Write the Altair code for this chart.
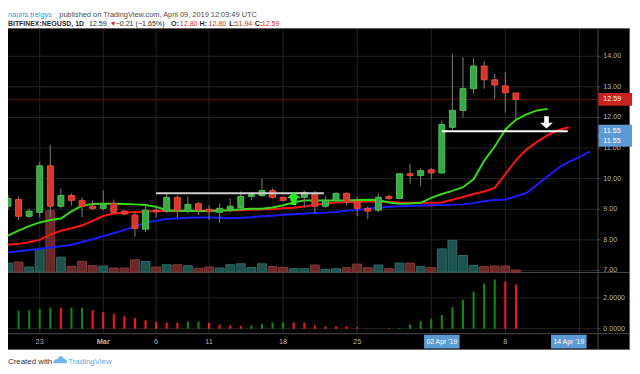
import altair as alt
import pandas as pd

# ---------------- data ----------------
candle_start = "2019-02-20"
opens = [9.10, 9.32, 8.77, 8.90, 10.42, 9.10, 9.45, 9.29, 9.10, 9.03, 9.19, 8.94, 8.81, 8.35, 8.97,
         8.94, 9.39, 8.94, 9.19, 9.00, 8.90, 9.00, 9.06, 9.42, 9.45, 9.61, 9.39, 9.29, 9.39, 9.52,
         9.10, 9.29, 9.52, 9.26, 9.03, 8.97, 9.42, 9.35, 10.16, 10.10, 10.29, 10.19, 11.68, 12.23,
         12.94, 13.68, 13.23, 13.03, 12.80]
highs = [9.45, 9.42, 9.03, 10.55, 11.10, 9.68, 9.52, 9.39, 9.29, 9.61, 9.32, 8.97, 8.90, 9.13, 9.13,
         9.52, 9.45, 9.42, 9.23, 9.13, 9.19, 9.35, 9.58, 9.55, 10.00, 9.68, 9.42, 9.50, 9.61, 9.61,
         9.42, 9.55, 9.55, 9.42, 9.10, 9.52, 9.48, 10.16, 10.48, 10.35, 10.35, 11.90, 14.06, 13.97,
         13.94, 13.84, 13.42, 13.48, 12.80]
lows = [9.00, 8.65, 8.71, 8.74, 8.75, 9.03, 9.13, 8.74, 8.97, 8.97, 8.87, 8.80, 8.10, 8.26, 8.74,
        8.87, 8.71, 8.87, 8.81, 8.65, 8.55, 8.90, 8.94, 9.29, 9.40, 9.35, 9.25, 9.20, 9.06, 8.87,
        9.05, 9.25, 9.13, 8.77, 8.68, 8.90, 9.29, 9.33, 9.84, 9.77, 9.97, 10.15, 11.61, 12.00,
        12.77, 12.94, 12.61, 12.16, 11.94]
closes = [9.35, 8.77, 8.94, 10.42, 9.10, 9.45, 9.29, 9.10, 9.03, 9.16, 8.90, 8.84, 8.37, 8.97, 8.91,
          9.39, 8.97, 9.16, 8.97, 8.92, 9.03, 9.10, 9.42, 9.48, 9.61, 9.39, 9.29, 9.45, 9.55, 9.10,
          9.29, 9.52, 9.26, 9.03, 8.94, 9.39, 9.35, 10.16, 10.10, 10.26, 10.19, 11.77, 12.23, 12.94,
          13.68, 13.23, 13.06, 12.81, 12.59]
volumes = [9, 10, 5, 23, 62, 15, 5.7, 10.7, 6.3, 6, 4, 4, 12.3, 10.7, 5, 7.3, 7.3, 6.3, 3.7, 5,
           4, 7.3, 8.3, 4.5, 8.3, 5.5, 4.5, 3.3, 3.3, 7, 2.7, 3.3, 4.3, 8, 4.3, 7, 3.3, 9, 9, 5.4,
           4.4, 23.4, 32, 16.7, 6.7, 5.4, 6, 6, 2]

osc_start = "2019-02-21"
osc_values = [1.17, 1.19, 1.28, 1.36, 1.36, 1.36, 1.36, 1.21, 1.07, 0.96, 0.83, 0.68, 0.55, 0.45,
              0.40, 0.38, 0.45, 0.45, 0.38, 0.26, 0.21, 0.17, 0.21, 0.32, 0.40, 0.40, 0.40, 0.38,
              0.21, 0.15, 0.15, 0.15, 0.10, 0.02, 0.01, 0.04, 0.06, 0.28, 0.49, 0.64, 0.89, 1.40,
              1.87, 2.40, 2.92, 3.19, 3.06, 2.85]
osc_colors = ["g", "g", "g", "g", "r", "g", "g", "r", "r", "r", "r", "r", "r", "r", "r", "r",
              "g", "g", "r", "r", "r", "r", "g", "g", "g", "g", "r", "r", "r", "r", "r", "r",
              "r", "r", "r", "r", "g", "g", "g", "g", "g", "g", "g", "g", "g", "g", "r", "r"]

ma_start = "2019-02-20"
ma_green = [8.14, 8.30, 8.45, 8.57, 8.65, 8.70, 8.93, 9.12, 9.17, 9.18, 9.18, 9.17, 9.16, 9.14,
            9.08, 8.97, 8.95, 8.95, 8.94, 8.94, 8.96, 8.97, 9.00, 9.02, 9.02, 9.06, 9.13, 9.22,
            9.29, 9.29, 9.29, 9.29, 9.29, 9.30, 9.31, 9.30, 9.22, 9.18, 9.19, 9.21, 9.37, 9.50,
            9.60, 9.72, 9.98, 10.58, 11.05, 11.60, 11.92, 12.10, 12.23, 12.28]
ma_red = [7.84, 7.87, 7.92, 8.00, 8.17, 8.30, 8.38, 8.47, 8.62, 8.78, 8.86, 8.89, 8.91, 8.93,
          8.94, 8.94, 8.94, 8.94, 8.95, 8.96, 8.96, 8.97, 8.97, 8.98, 8.99, 9.00, 9.03, 9.05,
          9.09, 9.14, 9.19, 9.22, 9.23, 9.24, 9.25, 9.25, 9.24, 9.22, 9.21, 9.21, 9.21, 9.22,
          9.31, 9.40, 9.50, 9.58, 9.70, 10.15, 10.60, 10.95, 11.20, 11.42, 11.58, 11.68]
ma_blue = [7.59, 7.63, 7.67, 7.71, 7.75, 7.79, 7.84, 7.93, 8.02, 8.12, 8.22, 8.32, 8.44, 8.56,
           8.62, 8.68, 8.70, 8.72, 8.73, 8.73, 8.72, 8.71, 8.72, 8.74, 8.77, 8.79, 8.82, 8.84,
           8.86, 8.88, 8.89, 8.91, 8.95, 8.98, 9.02, 9.06, 9.08, 9.10, 9.11, 9.12, 9.13, 9.14,
           9.15, 9.16, 9.20, 9.26, 9.30, 9.32, 9.42, 9.53, 9.80, 10.08, 10.35, 10.55, 10.70, 10.88]

price_ticks = [7, 8, 9, 10, 11, 12, 13, 14]
price_tick_labels = ["7.00", "8.00", "9.00", "10.00", "11.00", "12.00", "13.00", "14.00"]
osc_ticks = [0, 2]
osc_tick_labels = ["0.0000", "2.0000"]
grid_dates = ["2019-02-23", "2019-03-01", "2019-03-06", "2019-03-11", "2019-03-18",
              "2019-03-25", "2019-04-01", "2019-04-08", "2019-04-15"]
label_dates = ["2019-02-23", "2019-03-01", "2019-03-06", "2019-03-11", "2019-03-18",
               "2019-03-25", "2019-04-08"]
date_tick_labels = ["23", "Mar", "6", "11", "18", "25", "8"]

last_close = 12.59
level_price = 11.55
hline_starts = ["2019-03-06", "2019-04-02"]
hline_ends = ["2019-03-21T20:24", "2019-04-13T21:36"]
hline_prices = [9.52, 11.55]
marker_dates = ["2019-04-02", "2019-04-14"]
marker_labels = ["02 Apr '19", "14 Apr '19"]
up_arrow = ("2019-03-19", 9.34)
down_arrow = ("2019-04-11T21:20", 11.85)

# ---------------- helpers ----------------
BASE = pd.Timestamp("2019-03-01")


def day_of(s):
    return (pd.Timestamp(s) - BASE) / pd.Timedelta(days=1)


def day_series(start, n):
    return [day_of(start) + i for i in range(n)]


FONT = "Liberation Sans"
GRID = "#242424"
SEP = "#4a4a4a"
AXT = "#b4b4b4"
UPC, UPS = "#3aa845", "#4cc457"
DNC, DNS = "#d8352b", "#f04a3e"
one = pd.DataFrame({"a": [0]})

XS = alt.Scale(domain=[-8.532, 46.239], range=[0, 597], zero=False, nice=False)
PY = alt.Scale(domain=[7, 14], range=[263.5, 46.5], zero=False, nice=False)
VY = alt.Scale(domain=[0, 100], range=[265, 165], nice=False)
OY = alt.Scale(domain=[0, 2], range=[322.5, 291.2], nice=False)


def X(f="d"):
    return alt.X(f"{f}:Q", scale=XS, axis=None)


def Y(f, sc):
    return alt.Y(f"{f}:Q", scale=sc, axis=None)


candles = pd.DataFrame({"d": day_series(candle_start, len(opens)), "o": opens, "h": highs,
                        "l": lows, "c": closes, "v": volumes})
osc = pd.DataFrame({"d": day_series(osc_start, len(osc_values)), "val": osc_values, "col": osc_colors})
greens = pd.DataFrame({"d": day_series(ma_start, len(ma_green)), "p": ma_green})
reds = pd.DataFrame({"d": day_series(ma_start, len(ma_red)), "p": ma_red})
blues = pd.DataFrame({"d": day_series(ma_start, len(ma_blue)), "p": ma_blue})
pticks = pd.DataFrame({"p": price_ticks, "t": price_tick_labels})
oticks = pd.DataFrame({"p": osc_ticks, "t": osc_tick_labels})
gticks = pd.DataFrame({"d": [day_of(s) for s in grid_dates]})
dticks = pd.DataFrame({"d": [day_of(s) for s in label_dates], "t": date_tick_labels})
hlines = pd.DataFrame({"d": [day_of(s) for s in hline_starts], "d2": [day_of(s) for s in hline_ends],
                       "p": hline_prices, "k": ["a", "b"]})
markers = pd.DataFrame({"d": [day_of(s) for s in marker_dates], "t": marker_labels})

layers = []

# black panel
layers.append(alt.Chart(one).mark_rect(fill="#000000", stroke="#5e5e5e", strokeWidth=1).encode(
    x=alt.value(-2), x2=alt.value(629.5), y=alt.value(18.5), y2=alt.value(343.5)))

# grids
layers.append(alt.Chart(pticks).mark_rule(color=GRID, strokeWidth=1).encode(
    y=Y("p", PY), x=alt.value(0), x2=alt.value(597)))
layers.append(alt.Chart(oticks).mark_rule(color=GRID, strokeWidth=1).encode(
    y=Y("p", OY), x=alt.value(0), x2=alt.value(597)))
layers.append(alt.Chart(gticks).mark_rule(color=GRID, strokeWidth=1).encode(
    x=X("d"), y=alt.value(19), y2=alt.value(327)))

# separators
layers.append(alt.Chart(one).mark_rule(color=SEP, strokeWidth=1).encode(
    x=alt.value(0), x2=alt.value(629), y=alt.value(265.5)))
layers.append(alt.Chart(one).mark_rule(color=SEP, strokeWidth=1).encode(
    x=alt.value(0), x2=alt.value(629), y=alt.value(327.5)))
layers.append(alt.Chart(one).mark_rule(color=SEP, strokeWidth=1).encode(
    x=alt.value(597.5), y=alt.value(19), y2=alt.value(343)))

# price axis small ticks
layers.append(alt.Chart(pticks).mark_rule(color=SEP, strokeWidth=1).encode(
    y=Y("p", PY), x=alt.value(597), x2=alt.value(600)))
layers.append(alt.Chart(oticks).mark_rule(color=SEP, strokeWidth=1).encode(
    y=Y("p", OY), x=alt.value(597), x2=alt.value(600)))

# volume
up_test = alt.datum.c >= alt.datum.o
layers.append(alt.Chart(candles).mark_bar(size=9, strokeWidth=1).encode(
    x=X("d"), y=Y("v", VY),
    fill=alt.condition(up_test, alt.value("#1f524e"), alt.value("#6a2929")),
    stroke=alt.condition(up_test, alt.value("#2c6e68"), alt.value("#8a3838"))))

# last price line
layers.append(alt.Chart(pd.DataFrame({"p": [last_close]})).mark_rule(color="#5a1313", strokeWidth=1).encode(
    y=Y("p", PY), x=alt.value(0), x2=alt.value(597)))

# moving averages
for df, col in [(blues, "#1c1cff"), (reds, "#ff1414"), (greens, "#3ad816")]:
    layers.append(alt.Chart(df).mark_line(color=col, strokeWidth=2).encode(x=X("d"), y=Y("p", PY)))

# candles
layers.append(alt.Chart(candles).mark_rule(color="#808080", strokeWidth=1).encode(
    x=X("d"), y=Y("l", PY), y2="h:Q"))
layers.append(alt.Chart(candles).mark_bar(size=6, strokeWidth=1).encode(
    x=X("d"), y=Y("o", PY), y2="c:Q",
    fill=alt.condition(up_test, alt.value(UPC), alt.value(DNC)),
    stroke=alt.condition(up_test, alt.value(UPS), alt.value(DNS))))

# drawn horizontal lines
layers.append(alt.Chart(hlines).mark_rule(strokeWidth=2).encode(
    x=X("d"), x2="d2:Q", y=Y("p", PY),
    color=alt.condition(alt.datum.k == "a", alt.value("#cfcfcf"), alt.value("#ffffff"))))

# arrows
UP_PATH = "M0,-1L1,-0.1L0.36,-0.1L0.36,0.9L-0.36,0.9L-0.36,-0.1L-1,-0.1Z"
DOWN_PATH = "M0,1L1,0.1L0.36,0.1L0.36,-0.9L-0.36,-0.9L-0.36,0.1L-1,0.1Z"
layers.append(alt.Chart(pd.DataFrame({"d": [day_of(up_arrow[0])], "p": [up_arrow[1]]})).mark_point(
    shape=UP_PATH, size=196, filled=True, color="#22ee22", opacity=1, strokeWidth=0).encode(
    x=X("d"), y=Y("p", PY)))
layers.append(alt.Chart(pd.DataFrame({"d": [day_of(down_arrow[0])], "p": [down_arrow[1]]})).mark_point(
    shape=DOWN_PATH, size=169, filled=True, color="#ffffff", opacity=1, strokeWidth=0).encode(
    x=X("d"), y=Y("p", PY)))

# oscillator histogram
layers.append(alt.Chart(osc).mark_bar(size=2).encode(
    x=X("d"), y=Y("val", OY),
    color=alt.condition(alt.datum.col == "g", alt.value("#0e8f12"), alt.value("#ff1a1a"))))

# axis labels
layers.append(alt.Chart(pticks).mark_text(align="left", baseline="middle", font=FONT, fontSize=7.2,
                                          color=AXT).encode(y=Y("p", PY), x=alt.value(603), text="t:N"))
layers.append(alt.Chart(oticks).mark_text(align="left", baseline="middle", font=FONT, fontSize=7.2,
                                          color=AXT).encode(y=Y("p", OY), x=alt.value(603), text="t:N"))
layers.append(alt.Chart(dticks).transform_filter(alt.datum.t != "Mar").mark_text(
    align="center", baseline="middle", font=FONT, fontSize=7.5, color=AXT).encode(
    x=X("d"), y=alt.value(335.5), text="t:N"))
layers.append(alt.Chart(dticks).transform_filter(alt.datum.t == "Mar").mark_text(
    align="center", baseline="middle", font=FONT, fontSize=7.5, fontWeight="bold", color=AXT).encode(
    x=X("d"), y=alt.value(335.5), text="t:N"))

# price tags
BOX = "M-1,-0.382L1,-0.382L1,0.382L-1,0.382Z"
BOX_LOW = "M-1,0.2L1,0.2L1,0.93L-1,0.93Z"
DBOX = "M-1,-0.39L1,-0.39L1,0.39L-1,0.39Z"
BLUE = "#5b9ad3"
lc = pd.DataFrame({"p": [last_close], "t": [f"{last_close:.2f}"]})
lv = pd.DataFrame({"p": [level_price], "t": [f"{level_price:.2f}"]})
layers.append(alt.Chart(lc).mark_point(shape=BOX, size=1156, filled=True, color="#c9221f", opacity=1,
                                       strokeWidth=0).encode(y=Y("p", PY), x=alt.value(615)))
layers.append(alt.Chart(lc).mark_text(align="left", baseline="middle", font=FONT, fontSize=7.2,
                                      color="#ffffff").encode(y=Y("p", PY), x=alt.value(603), text="t:N"))
layers.append(alt.Chart(lv).mark_point(shape=BOX, size=1156, filled=True, color=BLUE, opacity=1,
                                       strokeWidth=0).encode(y=Y("p", PY), x=alt.value(615)))
layers.append(alt.Chart(lv).mark_point(shape=BOX_LOW, size=1156, filled=True, color=BLUE, opacity=1,
                                       strokeWidth=0).encode(y=Y("p", PY), x=alt.value(615)))
layers.append(alt.Chart(lv).mark_text(align="left", baseline="middle", font=FONT, fontSize=7.2,
                                      color="#ffffff").encode(y=Y("p", PY), x=alt.value(603), text="t:N"))
layers.append(alt.Chart(lv).mark_text(align="left", baseline="middle", font=FONT, fontSize=7.2, dy=9.5,
                                      color="#ffffff").encode(y=Y("p", PY), x=alt.value(603), text="t:N"))

# date markers
layers.append(alt.Chart(markers).mark_point(shape=DBOX, size=1296, filled=True, color=BLUE, opacity=1,
                                            strokeWidth=0).encode(x=X("d"), y=alt.value(335.5)))
layers.append(alt.Chart(markers).mark_text(align="center", baseline="middle", font=FONT, fontSize=7,
                                           color="#ffffff").encode(x=X("d"), y=alt.value(335.5), text="t:N"))


# header / footer
def label(text, x, y, color, size=7.5, weight="normal"):
    return alt.Chart(one).mark_text(text=text, align="left", baseline="alphabetic", font=FONT,
                                    fontSize=size, fontWeight=weight, color=color).encode(
        x=alt.value(x), y=alt.value(y))


DARK = "#2b2b2b"
PRED = "#d2302b"
L2 = 15.5
layers += [
    label("nauris.treigys", 0, 7, "#2a9fd8"),
    label("published on TradingView.com, April 09, 2019 12:03:49 UTC", 52, 7, "#4d4d4d"),
    label("BITFINEX:NEOUSD, 1D", 0, L2, DARK, size=7, weight="bold"),
    label("12.59", 82, L2, DARK, size=7.2),
    label("\u25BC", 103, L2, PRED, size=7.2),
    label("\u22120.21 (\u22121.65%)", 109, L2, DARK, size=7.2),
    label("O:", 165, L2, DARK, size=7.2, weight="bold"),
    label("12.80", 174, L2, PRED, size=7.2),
    label("H:", 194, L2, DARK, size=7.2, weight="bold"),
    label("12.80", 203, L2, PRED, size=7.2),
    label("L:", 224, L2, DARK, size=7.2, weight="bold"),
    label("11.94", 230, L2, PRED, size=7.2),
    label("C:", 250, L2, DARK, size=7.2, weight="bold"),
    label("12.59", 257, L2, PRED, size=7.2),
    label("Created with", 0, 358, "#333333", size=8),
    label("TradingView", 61, 358, "#5aaee2", size=8),
]
LOGO = "M-1,0.5C-1,0 -0.7,-0.2 -0.4,-0.05C-0.3,-0.6 0.35,-0.7 0.5,-0.15C0.85,-0.2 1,0.2 1,0.5Z"
layers.append(alt.Chart(one).mark_point(shape=LOGO, size=196, filled=True, color="#6bb8e8", opacity=1,
                                        strokeWidth=0).encode(x=alt.value(53), y=alt.value(354)))

chart = alt.layer(*layers).resolve_scale(y="independent").properties(
    width=632, height=366, padding=0, autosize=alt.AutoSizeParams(type="none"), background="#ffffff"
).configure_view(stroke=None)

chart.save("out.html", embed_options={"renderer": "svg", "actions": False})
